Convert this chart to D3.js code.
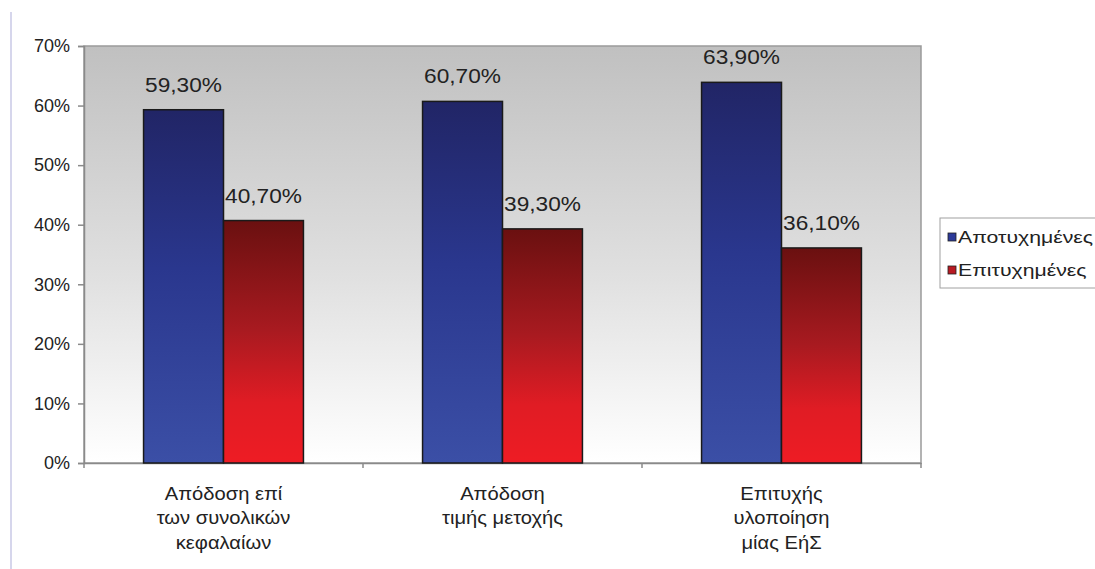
<!DOCTYPE html>
<html>
<head>
<meta charset="utf-8">
<script src="https://cdn.jsdelivr.net/npm/d3@7"></script>
<style>
  html, body { margin: 0; padding: 0; background: #ffffff; }
  svg { display: block; font-family: "Liberation Sans", Arial, sans-serif; }
</style>
</head>
<body>
<svg id="chart" width="1095" height="569"></svg>
<script>
// ---- data ----
const categories = ["Απόδοση επί\nτων συνολικών\nκεφαλαίων", "Απόδοση\nτιμής μετοχής", "Επιτυχής\nυλοποίηση\nμίας ΕήΣ"];
const series = ["Αποτυχημένες", "Επιτυχημένες"];
const failedValues = [59.3, 60.7, 63.9];
const successValues = [40.7, 39.3, 36.1];
const yTicks = [0, 10, 20, 30, 40, 50, 60, 70];

// ---- layout ----
const svg = d3.select("#chart");
const plot = { left: 84, right: 921, top: 46, bottom: 463 };

const x0 = d3.scaleBand().domain(categories).range([plot.left, plot.right]).paddingInner(0).paddingOuter(0);
const x1 = d3.scaleBand().domain(series).range([0, x0.bandwidth()]).paddingInner(0).paddingOuter(0.745);
const y = d3.scaleLinear().domain([0, 70]).range([plot.bottom, plot.top]);

const fmtLabel = v => v.toFixed(2).replace(".", ",") + "%";

const defs = svg.append("defs");
const bg = defs.append("linearGradient").attr("id", "bgGrad").attr("x1", 0).attr("y1", 0).attr("x2", 0).attr("y2", 1);
bg.append("stop").attr("offset", "0%").attr("stop-color", "#c0c0c0");
bg.append("stop").attr("offset", "55%").attr("stop-color", "#e0e0e0");
bg.append("stop").attr("offset", "100%").attr("stop-color", "#ffffff");

const blueG = defs.append("linearGradient").attr("id", "blueGrad").attr("x1", 0).attr("y1", 0).attr("x2", 0).attr("y2", 1);
blueG.append("stop").attr("offset", "0%").attr("stop-color", "#212566");
blueG.append("stop").attr("offset", "45%").attr("stop-color", "#2a378e");
blueG.append("stop").attr("offset", "100%").attr("stop-color", "#3b4fa6");

const redG = defs.append("linearGradient").attr("id", "redGrad").attr("x1", 0).attr("y1", 0).attr("x2", 0).attr("y2", 1);
redG.append("stop").attr("offset", "0%").attr("stop-color", "#6a1010");
redG.append("stop").attr("offset", "45%").attr("stop-color", "#a81a20");
redG.append("stop").attr("offset", "75%").attr("stop-color", "#e01c24");
redG.append("stop").attr("offset", "100%").attr("stop-color", "#ee1c24");

// left decorative line
svg.append("line").attr("x1", 11).attr("x2", 11).attr("y1", 12).attr("y2", 569)
  .attr("stroke", "#c9c9e6").attr("stroke-width", 1.5);

// plot background
svg.append("rect").attr("x", plot.left).attr("y", plot.top)
  .attr("width", plot.right - plot.left).attr("height", plot.bottom - plot.top)
  .attr("fill", "url(#bgGrad)").attr("stroke", "#9a9a9a").attr("stroke-width", 1.5);

// y axis
const yAxis = svg.append("g").attr("transform", `translate(${plot.left},0)`)
  .call(d3.axisLeft(y).tickValues(yTicks).tickFormat(d => d + "%").tickSize(6).tickPadding(8));
yAxis.select(".domain").attr("stroke", "#8a8a8a").attr("stroke-width", 1.5);
yAxis.selectAll(".tick line").attr("stroke", "#8a8a8a").attr("stroke-width", 1.5);
yAxis.selectAll(".tick text").attr("font-size", 18).attr("fill", "#222")
  .attr("font-family", "'Liberation Sans', Arial, sans-serif");

// x axis
const xAxis = svg.append("g").attr("transform", `translate(0,${plot.bottom})`)
  .call(d3.axisBottom(x0).tickSize(0).tickFormat(""));
xAxis.select(".domain").attr("stroke", "#8a8a8a").attr("stroke-width", 1.5);
// category boundary ticks
const bounds = categories.map(c => x0(c)).concat([x0(categories[categories.length - 1]) + x0.bandwidth()]);
xAxis.selectAll(".btick").data(bounds).enter().append("line").attr("class", "btick")
  .attr("x1", d => d).attr("x2", d => d).attr("y1", 0).attr("y2", 5)
  .attr("stroke", "#8a8a8a").attr("stroke-width", 1.5);

// category labels
categories.forEach(c => {
  const t = svg.append("text").attr("text-anchor", "middle").attr("font-size", 18).attr("fill", "#222")
    .attr("transform", `translate(${x0(c) + x0.bandwidth() / 2},500) scale(1.12,1)`);
  c.split("\n").forEach((line, i) => {
    t.append("tspan").attr("x", 0).attr("y", i * 24.5).text(line);
  });
});

// bars
const rows = categories.map((c, i) => ({ c, vals: [failedValues[i], successValues[i]] }));
const groups = svg.append("g").selectAll("g").data(rows).enter().append("g")
  .attr("transform", d => `translate(${x0(d.c)},0)`);
const fills = ["url(#blueGrad)", "url(#redGrad)"];
groups.selectAll("rect").data(d => d.vals.map((v, j) => ({ s: series[j], v, j }))).enter().append("rect")
  .attr("x", d => x1(d.s)).attr("width", x1.bandwidth())
  .attr("y", d => y(d.v)).attr("height", d => y(0) - y(d.v))
  .attr("fill", d => fills[d.j]).attr("stroke", "#1a1a1a").attr("stroke-width", 1.5);
groups.selectAll("text.val").data(d => d.vals.map((v, j) => ({ s: series[j], v, j }))).enter().append("text")
  .attr("class", "val").attr("text-anchor", "middle").attr("font-size", 21).attr("fill", "#222")
  .attr("transform", d => `translate(${x1(d.s) + x1.bandwidth() / 2},${y(d.v) - 18}) scale(1.08,1)`)
  .text(d => fmtLabel(d.v));

// legend
const lg = svg.append("g").attr("transform", "translate(940,218)");
lg.append("rect").attr("x", 0).attr("y", 0).attr("width", 170).attr("height", 70)
  .attr("fill", "#ffffff").attr("stroke", "#a0a0a0").attr("stroke-width", 1);
const legendColors = ["#2c3a98", "#b81a22"];
series.forEach((s, i) => {
  const gy = 19 + i * 33;
  lg.append("rect").attr("x", 8).attr("y", gy - 4).attr("width", 8).attr("height", 8)
    .attr("fill", legendColors[i]).attr("stroke", "#222").attr("stroke-width", 0.8);
  lg.append("text").attr("font-size", 17).attr("fill", "#222").attr("dominant-baseline", "central")
    .attr("transform", `translate(18,${gy}) scale(1.25,1)`).text(s);
});
</script>
</body>
</html>
